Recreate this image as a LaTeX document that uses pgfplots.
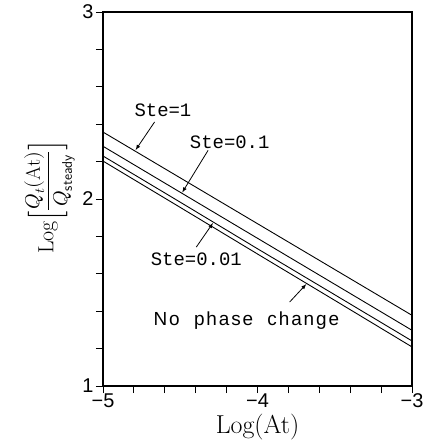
\documentclass[border=0pt]{standalone}
\usepackage{fontspec}
\usepackage{unicode-math}
\setmathfont{Latin Modern Math}
\usepackage{pgfplots}
\pgfplotsset{compat=1.18}
\newfontfamily\tickfont{Liberation Sans}
\newfontfamily\notefont[LetterSpace=10]{Liberation Sans}
\newfontfamily\stefont{Liberation Mono}
\begin{document}
\begin{tikzpicture}
\begin{axis}[
  scale only axis,
  width=309bp, height=374bp,
  xmin=-5, xmax=-3, ymin=1, ymax=3,
  xtick={-5,-4,-3}, xticklabels={−5,−4,−3},
  ytick={1,2,3}, yticklabels={1,2,3},
  minor x tick num=4, minor y tick num=4,
  tick align=outside,
  xtick pos=bottom, ytick pos=left,
  major tick length=7bp, minor tick length=7bp,
  tick style={line width=0.9pt, black},
  axis line style={line width=1.2pt},
  ticklabel style={font=\tickfont\fontsize{20}{22}\selectfont},
  xticklabel style={yshift=3bp},
  yticklabel style={xshift=1bp},
  xlabel={\fontsize{26}{28}\selectfont Log(At)},
  xlabel style={at={(axis description cs:0.5,0)}, anchor=base, yshift=-47bp},
  ylabel={\fontsize{22}{26}\selectfont Log$\Bigl[$\fontsize{20}{24}\selectfont$\displaystyle\frac{Q_t(\mathrm{At})}{Q_{\textsf{steady}}}$\fontsize{22}{26}\selectfont$\Bigr]$},
  ylabel style={at={(axis description cs:-0.172,0.505)}, anchor=center},
  clip=false,
]
\addplot[black, line width=0.9pt] coordinates {(-5,2.358) (-4.5,2.113) (-4,1.868) (-3.5,1.623) (-3,1.378)};
\addplot[black, line width=0.9pt] coordinates {(-5,2.282) (-4.5,2.036) (-4,1.790) (-3.5,1.544) (-3,1.298)};
\addplot[black, line width=0.9pt] coordinates {(-5,2.230) (-4.5,1.983) (-4,1.734) (-3.5,1.488) (-3,1.241)};
\addplot[black, line width=0.9pt] coordinates {(-5,2.203) (-4.5,1.955) (-4,1.706) (-3.5,1.458) (-3,1.209)};

\node[font=\stefont\fontsize{19}{21}\selectfont] at (axis cs:-4.612,2.474) {Ste=1};
\draw[-latex, line width=0.8pt] (axis cs:-4.666,2.412) -- (axis cs:-4.789,2.262);
\node[font=\stefont\fontsize{19}{21}\selectfont] at (axis cs:-4.180,2.305) {Ste=0.1};
\draw[-latex, line width=0.8pt] (axis cs:-4.320,2.260) -- (axis cs:-4.487,2.035);
\node[font=\stefont\fontsize{19}{21}\selectfont] at (axis cs:-4.396,1.676) {Ste=0.01};
\draw[-latex, line width=0.8pt] (axis cs:-4.396,1.743) -- (axis cs:-4.288,1.872);
\node[font=\notefont\fontsize{19}{21}\selectfont] at (axis cs:-4.072,1.348) {No\ \ phase\ \ change};
\draw[-latex, line width=0.8pt] (axis cs:-3.792,1.449) -- (axis cs:-3.684,1.545);

\coordinate (bl) at (rel axis cs:0,0);
\coordinate (tr) at (rel axis cs:1,1);
\end{axis}
\path (bl) ++(-103bp,-59bp) coordinate (a);
\path (tr) ++(13bp,12bp) coordinate (b);
\path (a) rectangle (b);
\end{tikzpicture}
\end{document}
